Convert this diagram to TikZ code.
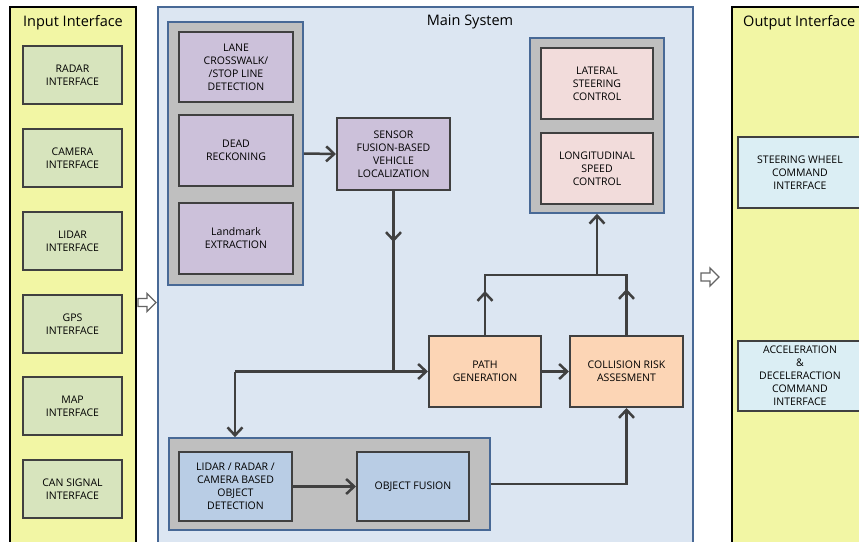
\documentclass[tikz,border=0pt]{standalone}
\usepackage{fontspec}
\setmainfont{Open Sans}
\usetikzlibrary{arrows.meta}
\definecolor{dk}{RGB}{64,64,64}
\definecolor{panelY}{RGB}{242,246,164}
\definecolor{inG}{RGB}{215,228,189}
\definecolor{mainB}{RGB}{220,230,242}
\definecolor{mainE}{RGB}{72,105,150}
\definecolor{grp}{RGB}{191,191,191}
\definecolor{purp}{RGB}{204,193,218}
\definecolor{pink}{RGB}{242,220,219}
\definecolor{orng}{RGB}{252,213,181}
\definecolor{blu}{RGB}{185,205,229}
\definecolor{cyanb}{RGB}{219,238,244}
\definecolor{hollow}{RGB}{100,100,100}
\tikzset{
  bx/.style={draw=dk, line width=2pt, align=center, inner sep=1pt, text=black,
    font=\fontsize{10.5}{13}\selectfont},
  grpbox/.style={draw=mainE, line width=1.6pt, fill=grp, inner sep=0pt},
  panel/.style={line width=1.5pt},
  ttl/.style={font=\fontsize{14.5}{16}\selectfont, inner sep=0pt},
  arr/.style={draw=dk, line width=2.5pt, -{Straight Barb[length=8pt,width=15pt]}},
  ln/.style={draw=dk, line width=2.5pt},
  harrow/.style={draw=hollow, fill=white, line width=1.3pt, line join=miter}
}
\begin{document}
\begin{tikzpicture}[x=1pt,y=-1pt]
\useasboundingbox (0,0) rectangle (859,541);
\fill[white] (0,0) rectangle (859,541);
% panels
\draw[panel, draw=black, fill=panelY] (10,7) rectangle (136,560);
\draw[panel, draw=mainE, fill=mainB, line width=1.2pt] (158,7) rectangle (693,560);
\draw[panel, draw=black, fill=panelY] (732,7) rectangle (880,560);
\node[ttl] (tin) at (73,23) {Input Interface};
\node[ttl] (tmain) at (470,22) {Main System};
\node[ttl, anchor=west] (tout) at (743,23) {Output Interface};
% input boxes
\foreach \n/\t/\y in {r/{RADAR\\INTERFACE}/75, c/{CAMERA\\INTERFACE}/158, l/{LIDAR\\INTERFACE}/241, g/{GPS\\INTERFACE}/324, m/{MAP\\INTERFACE}/406, s/{CAN SIGNAL\\INTERFACE}/489}
  \node[bx, fill=inG, minimum width=99pt, minimum height=58pt] (in\n) at (72.5,\y) {\t};
% hollow arrows
\draw[harrow] (138,298.5) -- (147,298.5) -- (147,293.5) -- (156,302.5) -- (147,311.5) -- (147,306.5) -- (138,306.5) -- cycle;
\draw[harrow] (701,273) -- (710,273) -- (710,268) -- (719,277) -- (710,286) -- (710,281) -- (701,281) -- cycle;
% left group
\node[grpbox, minimum width=135pt, minimum height=263pt] (lgrp) at (235.5,153.5) {};
\node[bx, fill=purp, minimum width=114pt, minimum height=70pt] (lane) at (236,67) {LANE\\CROSSWALK/\\/STOP LINE\\DETECTION};
\node[bx, fill=purp, minimum width=114pt, minimum height=71pt] (dead) at (236,150.5) {DEAD\\RECKONING};
\node[bx, fill=purp, minimum width=114pt, minimum height=71pt] (land) at (236,238.5) {Landmark\\EXTRACTION};
\node[bx, fill=purp, minimum width=113pt, minimum height=72pt] (sensor) at (393.5,154) {SENSOR\\FUSION-BASED\\VEHICLE\\LOCALIZATION};
% right group
\node[grpbox, minimum width=134pt, minimum height=175pt] (rgrp) at (597,125.5) {};
\node[bx, fill=pink, minimum width=112pt, minimum height=71pt] (lat) at (597,83.5) {LATERAL\\STEERING\\CONTROL};
\node[bx, fill=pink, minimum width=112pt, minimum height=71pt] (lon) at (597,168.5) {LONGITUDINAL\\SPEED\\CONTROL};
% path / collision
\node[bx, fill=orng, minimum width=112pt, minimum height=71pt] (path) at (485,371.5) {PATH\\GENERATION};
\node[bx, fill=orng, minimum width=113pt, minimum height=71pt] (coll) at (626.5,371.5) {COLLISION RISK\\ASSESMENT};
% bottom group
\node[grpbox, minimum width=321pt, minimum height=92pt] (bgrp) at (329.5,484) {};
\node[bx, fill=blu, minimum width=113pt, minimum height=69pt] (det) at (235.5,486.5) {LIDAR / RADAR /\\CAMERA BASED\\OBJECT\\DETECTION};
\node[bx, fill=blu, minimum width=112pt, minimum height=69pt] (objf) at (413,486.5) {OBJECT FUSION};
% output boxes
\node[bx, fill=cyanb, minimum width=124pt, minimum height=71pt] (steer) at (800,172.5) {STEERING WHEEL\\COMMAND\\INTERFACE};
\node[bx, fill=cyanb, minimum width=124pt, minimum height=70pt] (accel) at (800,376) {ACCELERATION\\\&\\DECELERACTION\\COMMAND\\INTERFACE};
% coordinates
\coordinate (j1) at (393.5,371.5);
\coordinate (j2) at (235,371.5);
\coordinate (m1) at (393.5,242);
\coordinate (k1) at (485,275);
\coordinate (k2) at (626.5,275);
\coordinate (k3) at (597,275);
\coordinate (m2) at (485,291);
\coordinate (m3) at (626.5,289);
% connectors
\draw[arr] (lgrp.east) -- (sensor.west);
\draw[ln] (sensor.south) -- (j1);
\draw[arr] (sensor.south) -- (m1);
\draw[arr] (j2) -- (path.west);
\draw[arr] (j2) -- (j2 |- bgrp.north);
\draw[arr] (path.east) -- (coll.west);
\draw[arr] (det.east) -- (objf.west);
\draw[arr, line join=miter] (bgrp.east) -- (bgrp.east -| coll.south) -- (coll.south);
\draw[ln, line join=miter] (path.north) -- (k1) -- (k2) -- (coll.north);
\draw[arr] (path.north) -- (m2);
\draw[arr] (coll.north) -- (m3);
\draw[arr] (k3) -- (rgrp.south);
\end{tikzpicture}
\end{document}
